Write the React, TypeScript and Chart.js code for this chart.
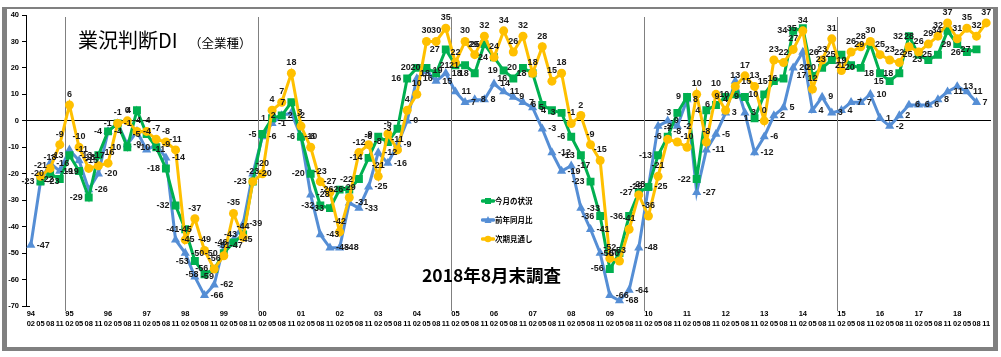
import React, { useEffect, useRef } from 'react';
import { Chart, registerables } from 'chart.js';

Chart.register(...registerables);

// ---- data ----
const yearLabels = ['94', '95', '96', '97', '98', '99', '00', '01', '02', '03', '04', '05', '06', '07', '08', '09', '10', '11', '12', '13', '14', '15', '16', '17', '18'];
const monthLabels = ['02', '05', '08', '11'];
const categories = yearLabels.flatMap((y) => monthLabels.map((m) => `${y}/${m}`));

const yMin = -70;
const yMax = 40;
const yStep = 10;

// 今月の状況
const currentDI: (number | null)[] = [
  null, -23, -20, -22, -13, -19, -29, -13, -4, -1,
  -10, 4, -5, -10, -18, -32, -41, -53, -58, -56,
  -50, -46, -43, -23, -5, 1, 2, 7, -6, -20,
  -32, -33, -26, -26, -22, -14, -6, -8, -3, 16,
  20, 20, 18, 27, 21, 21, 18, 29, 24, 19,
  16, 20, 18, 6, 4, 3, -6, -13, -23, -36,
  -56, -50, -36, -27, -25, -13, -6, 3, 9, -22,
  4, 6, 9, 10, 9, 1, 10, 15, 16, 34,
  35, 17, 20, 23, 25, 21, 20, 29, 18, 15,
  18, 32, 25, 23, 25, 34, 29, 26, 27, null,
];

// 前年同月比
const yoyDI: (number | null)[] = [
  -47, -23, -16, -19, -11, -15, -26, -20, -4, -1,
  -9, -4, -11, -9, -14, -45, -50, -59, -66, -62,
  -47, -45, -39, -20, -6, -1, 2, 3, -6, -28,
  -43, -48, -48, -31, -33, -25, -12, -16, -9, 0,
  16, 19, 15, 18, 11, 7, 8, 8, 14, 11,
  9, 7, 5, -3, -12, -19, -17, -33, -41, -50,
  -66, -68, -64, -48, -25, -2, 0, -2, 8, -27,
  -11, -5, 3, 15, 3, -12, -6, 2, 5, 20,
  26, 4, 9, 3, 4, 7, 7, 10, 1, -2,
  2, 6, 6, 6, 8, 11, 13, 11, 7, null,
];

// 次期見通し
const outlookDI: (number | null)[] = [
  null, -21, -18, -9, 6, -10, -18, -17, -16, -1,
  0, -4, -4, -7, -8, -11, -45, -37, -49, -56,
  -51, -35, -44, -23, -20, 4, 7, 18, -2, -10,
  -23, -27, -42, -29, -12, -9, -21, -5, -11, 4,
  10, 30, 30, 35, 22, 30, 25, 32, 24, 34,
  26, 32, 18, 28, 15, 18, -1, 2, -9, -15,
  -52, -53, -41, -28, -36, -21, -7, -8, -10, 10,
  -8, 10, 4, 13, 17, 13, 0, 23, 22, 27,
  34, 12, 23, 31, 19, 26, 28, 30, 25, 23,
  22, 28, 26, 29, 32, 37, 31, 35, 32, 37,
];

const dividerYears = ['95', '00', '05', '10', '15'];

const GREEN = '#00B050';
const BLUE = '#558ED5';
const ORANGE = '#FFC000';

const labelFont = 'bold 9px "Liberation Sans", Arial, sans-serif';

const backgroundPlugin = {
  id: 'bg',
  beforeDraw(chart: any) {
    const { ctx, width, height } = chart;
    ctx.save();
    ctx.fillStyle = '#ffffff';
    ctx.fillRect(0, 0, width, height);
    ctx.restore();
  },
};

const dividerPlugin = {
  id: 'dividers',
  beforeDatasetsDraw(chart: any) {
    const { ctx, chartArea } = chart;
    const xs = chart.scales.x;
    ctx.save();
    ctx.strokeStyle = '#808080';
    ctx.lineWidth = 1;
    dividerYears.forEach((yr) => {
      const idx = categories.indexOf(`${yr}/02`);
      if (idx <= 0) return;
      const px = (xs.getPixelForValue(idx - 1) + xs.getPixelForValue(idx)) / 2;
      const x = Math.round(px) + 0.5;
      ctx.beginPath();
      ctx.moveTo(x, chartArea.top + 2);
      ctx.lineTo(x, chartArea.bottom + 5);
      ctx.stroke();
    });
    ctx.strokeStyle = '#000';
    ctx.beginPath();
    ctx.moveTo(chartArea.left, Math.round(chartArea.bottom) + 0.5);
    ctx.lineTo(chartArea.left + 4, Math.round(chartArea.bottom) + 0.5);
    ctx.stroke();
    ctx.restore();
  },
};

const dataLabelPlugin = {
  id: 'pointLabels',
  afterDatasetsDraw(chart: any) {
    const { ctx } = chart;
    ctx.save();
    ctx.font = labelFont;
    ctx.fillStyle = '#1a1a1a';
    chart.data.datasets.forEach((ds: any, di: number) => {
      const meta = chart.getDatasetMeta(di);
      const pos = ds.labelPos;
      meta.data.forEach((pt: any, i: number) => {
        const v = ds.data[i];
        if (v == null) return;
        let x = pt.x;
        let y = pt.y;
        if (pos === 'left') {
          ctx.textAlign = 'right';
          ctx.textBaseline = 'middle';
          x -= 6;
        } else if (pos === 'right') {
          ctx.textAlign = 'left';
          ctx.textBaseline = 'middle';
          x += 6;
        } else {
          ctx.textAlign = 'center';
          ctx.textBaseline = 'bottom';
          y -= 6;
        }
        ctx.fillText(String(v), x, y);
      });
    });
    ctx.restore();
  },
};

function LegendMarker({ color, shape }: { color: string; shape: 'rect' | 'triangle' | 'circle' }) {
  return (
    <svg width="14" height="10" style={{ display: 'block' }}>
      <line x1="1.5" y1="5" x2="12.5" y2="5" stroke={color} strokeWidth="3.5" strokeLinecap="round" />
      {shape === 'rect' && <rect x="4" y="2" width="6" height="6" fill={color} />}
      {shape === 'triangle' && <polygon points="7,1 10.5,8 3.5,8" fill={color} />}
      {shape === 'circle' && <circle cx="7" cy="5" r="3.3" fill={color} />}
    </svg>
  );
}

export default function App() {
  const canvasRef = useRef<HTMLCanvasElement | null>(null);

  useEffect(() => {
    const canvas = canvasRef.current;
    if (!canvas) return;
    const chart = new Chart(canvas, {
      type: 'line',
      data: {
        labels: categories,
        datasets: [
          {
            label: '次期見通し',
            data: outlookDI,
            borderColor: ORANGE,
            backgroundColor: ORANGE,
            borderWidth: 3,
            pointStyle: 'circle',
            pointRadius: 4.5,
            pointBorderWidth: 0,
            tension: 0,
            order: 0,
            labelPos: 'above',
          } as any,
          {
            label: '今月の状況',
            data: currentDI,
            borderColor: GREEN,
            backgroundColor: GREEN,
            borderWidth: 3,
            pointStyle: 'rect',
            pointRadius: 5.6,
            pointBorderWidth: 0,
            tension: 0,
            order: 1,
            labelPos: 'left',
          } as any,
          {
            label: '前年同月比',
            data: yoyDI,
            borderColor: BLUE,
            backgroundColor: BLUE,
            borderWidth: 3,
            pointStyle: 'triangle',
            pointRadius: 5.3,
            pointBorderWidth: 0,
            tension: 0,
            order: 2,
            labelPos: 'right',
          } as any,
        ],
      },
      options: {
        animation: false,
        responsive: false,
        maintainAspectRatio: false,
        layout: { padding: { top: 15, right: 10, left: 0, bottom: 0 } },
        plugins: {
          legend: { display: false },
          tooltip: { enabled: false },
          title: { display: false },
        },
        scales: {
          x: {
            type: 'category',
            offset: true,
            grid: { display: false, drawTicks: false },
            border: { display: false },
            ticks: {
              autoSkip: false,
              maxRotation: 0,
              minRotation: 0,
              padding: 3,
              color: '#000',
              font: { size: 7.5, weight: 'bold', family: '"Liberation Sans", Arial, sans-serif', lineHeight: '10px' } as any,
              callback: (_v: any, idx: number) => [idx % 4 === 0 ? yearLabels[idx / 4] : '', monthLabels[idx % 4]],
            },
            afterFit: (s: any) => {
              s.height = 51;
            },
          },
          y: {
            min: yMin,
            max: yMax,
            ticks: {
              stepSize: yStep,
              padding: 3,
              color: '#000',
              font: { size: 7.5, weight: 'bold', family: '"Liberation Sans", Arial, sans-serif' } as any,
            },
            grid: {
              color: (c: any) => (c.tick && c.tick.value === 0 ? '#000000' : 'rgba(0,0,0,0)'),
              tickColor: '#000000',
              tickLength: 4,
              drawTicks: true,
              lineWidth: 1,
            },
            border: { display: true, color: '#000', width: 1 },
            afterFit: (s: any) => {
              s.width = 26;
            },
          },
        },
      } as any,
      plugins: [backgroundPlugin, dividerPlugin, dataLabelPlugin],
    });
    return () => chart.destroy();
  }, []);

  const jp = '"Noto Sans CJK JP", "Noto Sans", sans-serif';
  const legendRows: { label: string; color: string; shape: 'rect' | 'triangle' | 'circle'; y: number }[] = [
    { label: '今月の状況', color: GREEN, shape: 'rect', y: 201 },
    { label: '前年同月比', color: BLUE, shape: 'triangle', y: 220 },
    { label: '次期見通し', color: ORANGE, shape: 'circle', y: 239 },
  ];

  return (
    <div style={{ position: 'absolute', left: 0, top: 0, width: 1001, height: 357, background: '#fff', overflow: 'hidden' }}>
      <canvas ref={canvasRef} width={1001} height={357} style={{ position: 'absolute', left: 0, top: 0, display: 'block' }} />
      <div
        style={{
          position: 'absolute',
          left: 2,
          top: 7,
          width: 996,
          height: 344,
          boxSizing: 'border-box',
          borderStyle: 'solid',
          borderColor: '#808080',
          borderWidth: '2px 5px 4px 5px',
          pointerEvents: 'none',
        }}
      />
      <div style={{ position: 'absolute', left: 78, top: 30, fontFamily: jp, fontSize: 20, lineHeight: '20px', color: '#000', whiteSpace: 'nowrap' }}>
        業況判断DI
      </div>
      <div style={{ position: 'absolute', left: 189, top: 36, fontFamily: jp, fontSize: 12.5, lineHeight: '13px', color: '#000', whiteSpace: 'nowrap' }}>
        （全業種）
      </div>
      <div style={{ position: 'absolute', left: 422, top: 266, fontFamily: jp, fontSize: 17.5, fontWeight: 700, lineHeight: '18px', color: '#000', whiteSpace: 'nowrap' }}>
        2018年8月末調査
      </div>
      {legendRows.map((r) => (
        <div key={r.label} style={{ position: 'absolute', left: 481, top: r.y - 5, height: 10, display: 'flex', alignItems: 'center', whiteSpace: 'nowrap' }}>
          <LegendMarker color={r.color} shape={r.shape} />
          <span style={{ fontFamily: jp, fontSize: 7.5, fontWeight: 700, lineHeight: '10px', color: '#000' }}>{r.label}</span>
        </div>
      ))}
    </div>
  );
}
